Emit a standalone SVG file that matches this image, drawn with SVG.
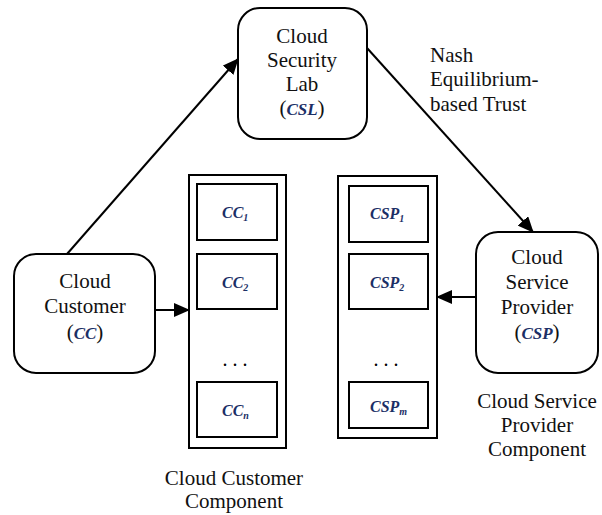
<svg xmlns="http://www.w3.org/2000/svg" width="602" height="515" viewBox="0 0 602 515">
<defs>
<marker id="ah" markerWidth="16" markerHeight="14" refX="15" refY="7" orient="auto" markerUnits="userSpaceOnUse" viewBox="0 0 16 14">
<path d="M0,0 L16,7 L0,14 z" fill="#000"/>
</marker>
<style>
text{font-family:'Liberation Serif','DejaVu Serif',serif}
.t{font-size:21px;fill:#111;text-anchor:middle}
.l{font-size:21px;fill:#111;text-anchor:start}
.m{font-weight:bold;font-style:italic;fill:#1b2f66}
.node{fill:#fff;stroke:#000;stroke-width:2}
.box{fill:#fff;stroke:#000;stroke-width:2}
.c{fill:none;stroke:#000;stroke-width:2}
.dots{font-size:20px;fill:#000;text-anchor:middle}
</style>
</defs>
<rect width="602" height="515" fill="#fff"/>
<g id="connectors">
<line class="c" x1="67" y1="254" x2="238" y2="59" marker-end="url(#ah)"/>
<line class="c" x1="367" y1="48" x2="533" y2="232" marker-end="url(#ah)"/>
<line class="c" x1="155" y1="310" x2="189" y2="310" marker-end="url(#ah)"/>
<line class="c" x1="475" y1="297" x2="437" y2="297" marker-end="url(#ah)"/>
</g>
<g id="csl" font-family="Liberation Serif, serif">
<rect class="node" x="238" y="8" width="129" height="131" rx="22"/>
<text class="t" x="302" y="43">Cloud</text>
<text class="t" x="302" y="67">Security</text>
<text class="t" x="302" y="91">Lab</text>
<text class="t" x="302" y="115">(<tspan class="m" font-size="17">CSL</tspan>)</text>
</g>
<g id="cc">
<rect class="node" x="14" y="254" width="141" height="119" rx="22"/>
<text class="t" x="85" y="288">Cloud</text>
<text class="t" x="85" y="313">Customer</text>
<text class="t" x="85" y="339">(<tspan class="m" font-size="17">CC</tspan>)</text>
</g>
<g id="csp">
<rect class="node" x="476" y="232" width="122" height="141" rx="22"/>
<text class="t" x="537" y="264">Cloud</text>
<text class="t" x="537" y="289">Service</text>
<text class="t" x="537" y="314">Provider</text>
<text class="t" x="537" y="339">(<tspan class="m" font-size="17">CSP</tspan>)</text>
</g>
<g id="trust-label">
<text class="l" x="430" y="62">Nash</text>
<text class="l" x="430" y="86">Equilibrium-</text>
<text class="l" x="430" y="111">based Trust</text>
</g>
<g id="cc-component">
<rect class="box" x="189" y="175" width="97" height="273"/>
<rect class="box" x="197" y="184" width="80" height="56"/>
<rect class="box" x="197" y="254" width="80" height="55"/>
<text class="dots" x="235" y="366">. . .</text>
<rect class="box" x="197" y="382" width="80" height="55"/>
<text class="m" x="222" y="218" font-size="16">CC<tspan font-size="10" dy="3">1</tspan></text>
<text class="m" x="222" y="288" font-size="16">CC<tspan font-size="10" dy="3">2</tspan></text>
<text class="m" x="222" y="416" font-size="16">CC<tspan font-size="10" dy="3">n</tspan></text>
<text class="t" x="234" y="485">Cloud Customer</text>
<text class="t" x="234" y="508">Component</text>
</g>
<g id="csp-component">
<rect class="box" x="338" y="176" width="99" height="262"/>
<rect class="box" x="349" y="186" width="79" height="56"/>
<rect class="box" x="349" y="254" width="79" height="55"/>
<text class="dots" x="386" y="366">. . .</text>
<rect class="box" x="349" y="382" width="79" height="46"/>
<text class="m" x="370" y="219" font-size="16">CSP<tspan font-size="10" dy="3">1</tspan></text>
<text class="m" x="370" y="288" font-size="16">CSP<tspan font-size="10" dy="3">2</tspan></text>
<text class="m" x="370" y="412" font-size="16">CSP<tspan font-size="10" dy="3">m</tspan></text>
<text class="t" x="537" y="408">Cloud Service</text>
<text class="t" x="537" y="432">Provider</text>
<text class="t" x="537" y="456">Component</text>
</g>
</svg>
